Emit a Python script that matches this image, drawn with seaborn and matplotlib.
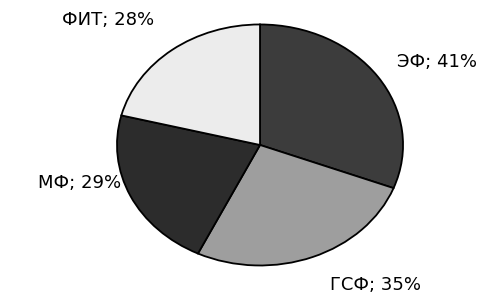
import matplotlib
matplotlib.use("Agg")
import matplotlib.pyplot as plt
import seaborn as sns

# shares per faculty (as printed on the chart)
faculties = ["ЭФ", "ГСФ", "МФ", "ФИТ"]
shares = [41, 35, 29, 28]
labels = [f"{f}; {s}%" for f, s in zip(faculties, shares)]

sns.set_theme(style="white")
plt.rcParams["font.family"] = ["DejaVu Sans"]

colors = ["#3c3c3c", "#9e9e9e", "#2c2c2c", "#ececec"]

fig = plt.figure(figsize=(4.94, 2.95), dpi=100)
ax = fig.add_axes([0, 0, 1, 1])

wedges, _ = ax.pie(
    shares,
    colors=colors,
    startangle=90,
    counterclock=False,
    radius=1,
    wedgeprops=dict(edgecolor="black", linewidth=1.3),
)
ax.set_aspect("auto")
ax.set_xlim(-1.818, 1.636)
ax.set_ylim(-1.245, 1.203)
ax.axis("off")

# label placement (data coords of the flattened pie)
label_pos = [(1.235, 0.69), (0.81, -1.165), (-1.26, -0.315), (-1.06, 1.04)]
for txt, (x, y) in zip(labels, label_pos):
    ax.text(x, y, txt, ha="center", va="center", fontsize=13, color="black")

fig.savefig("out.png", dpi=100, facecolor="white")
